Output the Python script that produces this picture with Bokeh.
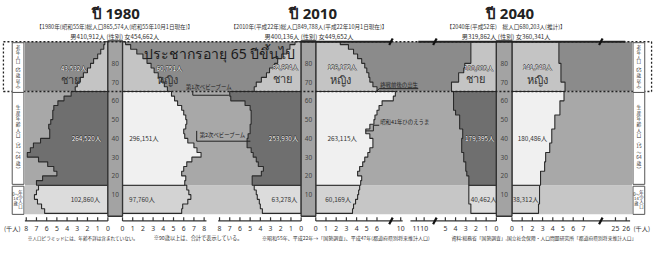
from bokeh.plotting import figure
from bokeh.models import Range1d
from bokeh.core.properties import value
from bokeh.embed import file_html
from bokeh.resources import INLINE

# ---------------- data ----------------
AGE_STARTS = [0, 2.5, 5, 7.5, 10, 12.5, 15, 17.5, 20, 22.5, 25, 27.5, 30, 32.5, 35,
              37.5, 40, 42.5, 45, 47.5, 50, 52.5, 55, 57.5, 60, 62.5, 65, 67.5, 70,
              72.5, 75, 77.5, 80, 82.5, 85, 87.5, 90]
AGE_TOP = 91.5
AGE_TICKS = [10, 20, 30, 40, 50, 60, 70, 80]

YEARS = ["1980", "2010", "2040"]
TITLES = ["ปี 1980", "ปี 2010", "ปี 2040"]
HEAD1 = ["【1980年(昭和55年)総人口865,574人(昭和55年10月1日現在)】",
         "【2010年(平成22年)総人口849,788人(平成22年10月1日現在)】",
         "【2040年(平成52年)　総人口680,203人(推計)】"]
MALE_TOTAL = ["410,912", "400,136", "319,862"]
FEMALE_TOTAL = ["454,662", "449,652", "360,341"]

# thousand persons per year of age (read per 2.5-year band of the picture)
MALE_1980 = [6.2, 6.5, 6.9, 7.2, 7.0, 6.8,
             7.0, 6.4, 5.0, 5.3, 5.9, 6.8, 7.9, 7.6, 7.3, 6.6, 5.7, 5.7, 5.8, 5.6, 5.4, 5.4, 5.3, 4.9, 4.3, 3.6,
             3.2, 3.0, 2.7, 2.4, 2.0, 1.7, 1.4, 1.0, 0.7, 0.4, 0.3]
FEMALE_1980 = [5.8, 5.9, 6.4, 6.7, 6.5, 6.3,
               6.1, 6.2, 5.8, 6.0, 6.3, 6.8, 7.7, 7.3, 7.0, 6.4, 6.1, 6.0, 6.2, 6.3, 6.2, 6.0, 5.8, 5.4, 5.1, 4.8,
               4.4, 4.1, 3.8, 3.5, 3.1, 2.8, 2.4, 2.0, 1.4, 0.8, 0.3]
MALE_2010 = [3.8, 4.0, 4.1, 4.3, 4.4, 4.6,
             4.8, 4.8, 3.9, 3.7, 4.2, 4.4, 4.7, 4.9, 5.3, 5.3, 5.2, 5.0, 5.0, 4.9, 4.9, 4.9, 5.0, 5.5, 6.9, 7.0,
             4.6, 4.4, 3.9, 3.4, 3.1, 2.6, 2.3, 1.9, 1.4, 1.1, 0.6]
FEMALE_2010 = [3.6, 3.7, 3.9, 4.1, 4.2, 4.3,
               4.4, 4.5, 4.1, 4.3, 4.6, 4.8, 5.1, 5.3, 5.6, 5.6, 5.3, 4.9, 5.3, 5.7, 5.8, 6.0, 6.2, 6.5, 7.6, 7.8,
               6.0, 5.6, 5.3, 5.2, 5.0, 4.8, 4.5, 4.1, 3.7, 3.2, 2.4]
MALE_2040 = [2.5, 2.5, 2.7, 2.7, 2.7, 2.7,
             2.7, 2.7, 2.9, 3.0, 3.0, 3.2, 3.2, 3.4, 3.4, 3.4, 3.3, 3.3, 3.6, 3.6, 3.6, 4.0, 4.2, 4.2, 4.2, 4.2,
             4.4, 4.4, 3.7, 3.7, 3.2, 3.1, 2.5, 2.5, 2.5, 2.5, 2.5]
FEMALE_2040 = [2.6, 2.6, 2.7, 2.7, 2.7, 2.7,
               2.8, 2.8, 2.8, 3.2, 3.2, 3.3, 3.3, 3.7, 3.7, 3.9, 3.9, 3.9, 4.2, 4.2, 4.2, 4.7, 4.7, 4.7, 5.1, 5.1,
               5.2, 5.2, 4.8, 4.8, 4.8, 4.8, 4.6, 4.6, 4.6, 4.6, 4.6]
MALE = {"1980": MALE_1980, "2010": MALE_2010, "2040": MALE_2040}
FEMALE = {"1980": FEMALE_1980, "2010": FEMALE_2010, "2040": FEMALE_2040}

# group totals [0-14, 15-64, 65+]
MALE_GROUPS = {"1980": ["102,860人", "264,520人", "43,532人"],
               "2010": ["63,278人", "253,930人", "82,924人"],
               "2040": ["40,462人", "179,395人", "100,005人"]}
FEMALE_GROUPS = {"1980": ["97,760人", "296,151人", "60,751人"],
                 "2010": ["60,169人", "263,115人", "126,172人"],
                 "2040": ["38,312人", "180,486人", "141,543人"]}

AXIS_VALUES = {"1980": (list(range(8, -1, -1)), list(range(0, 9))),
               "2010": (list(range(8, -1, -1)), list(range(0, 7))),
               "2040": (list(range(5, -1, -1)), list(range(0, 8)))}
BREAK_LABELS = ["10", "11", "10", "25", "26"]

FOOTNOTES = ["※人口ピラミッドには、年齢不詳は含まれていない。",
             "※90歳以上は、合計で表示している。",
             "※昭和55年、平成22年→「国勢調査」、平成47年(都道府県別将来推計人口)",
             "資料:総務省「国勢調査」,国立社会保障・人口問題研究所「都道府県別将来推計人口」"]

# ---------------- layout ----------------
K = 10.45
ZERO = {"1980": (110, 125), "2010": (308, 323), "2040": (508, 524)}
TITLE_X = {"1980": 118, "2010": 320, "2040": 522}
HEAD_X = {"1980": 117, "2010": 316, "2040": 518}


def ay(py):
    return (227.0 - py) / 2.0


JP = value("Noto Sans CJK JP")
TH = value("Noto Sans")

p = figure(width=654, height=242, output_backend="svg", toolbar_location=None,
           x_range=Range1d(0, 670), y_range=Range1d(ay(258), ay(0)),
           min_border=0, border_fill_color="white", background_fill_color="white")
p.axis.visible = False
p.grid.visible = False
p.outline_line_color = None


def txt(x, py, s, size, color="#222", align="center", bold=False, font=JP, baseline="middle"):
    p.text(x=[x], y=[ay(py)], text=[s], text_font=font, text_font_size=size,
           text_color=color, text_align=align, text_baseline=baseline,
           text_font_style="bold" if bold else "normal")


# background bands
p.quad(left=[25, 25, 25], right=[647, 647, 647], bottom=[-0.5, 15, 65], top=[15, 65, AGE_TOP],
       fill_color=["#c6c6c6", "#a8a8a8", "#8b8b8b"], line_color=None)

# pyramids
M_COLS = ["#dcdcdc", "#6f6f6f", "#c4c4c4"]
F_COLS = ["#d3d3d3", "#f0f0f0", "#c4c4c4"]
GROUPS = [(0, 6), (6, 26), (26, 37)]
edges = AGE_STARTS + [AGE_TOP]
for yr in YEARS:
    zm, zf = ZERO[yr]
    for zero, d, vals, cols in [(zm, -1, MALE[yr], M_COLS), (zf, 1, FEMALE[yr], F_COLS)]:
        for gi, (i0, i1) in enumerate(GROUPS):
            xs = [zero]
            ys = [edges[i0]]
            for i in range(i0, i1):
                xv = zero + d * vals[i] * K
                xs += [xv, xv]
                ys += [edges[i], edges[i + 1]]
            xs.append(zero)
            ys.append(edges[i1])
            p.patch(xs, ys, fill_color=cols[gi], line_color="#2a2a2a", line_width=1.1)
    # age column
    p.quad(left=[zm], right=[zf], bottom=[-1.5], top=[AGE_TOP + 0.5], fill_color="#a3a3a3",
           line_color="#333333", line_width=1.3)
    p.text(x=[(zm + zf) / 2] * len(AGE_TICKS), y=AGE_TICKS, text=[str(a) for a in AGE_TICKS],
           text_font=value("Noto Sans"), text_font_size="6.5px", text_color="#444",
           text_align="center", text_baseline="middle")

# dashed 65+ frame
p.line([3, 667, 667, 3, 3], [ay(44), ay(44), ay(97), ay(97), ay(44)], line_color="#222",
       line_width=1.3, line_dash="2 2")
p.multi_line([[308, 400], [428, 640]], [[ay(44)] * 2] * 2, line_color="#222", line_width=2)

# side label boxes
for bx in (12, 648):
    p.quad(left=[bx] * 3, right=[bx + 12] * 3, bottom=[ay(228), ay(196), ay(98)],
           top=[ay(198), ay(98), ay(45)], fill_color="white", line_color="#555", line_width=1)
    cx = bx + 6
    top_t = ["老", "年", "人", "口", "︵", "65", "歳", "以", "上", "︶"]
    for i, t in enumerate(top_t):
        txt(cx, 50 + i * 4.9, t, "4.6px", color="#333")
    mid_t = ["生", "産", "年", "齢", "人", "口", "︵", "15", "〜", "64", "歳", "︶"]
    for i, t in enumerate(mid_t):
        txt(cx, 113 + i * 6, t, "4.8px", color="#333")
    for i, t in enumerate(["年", "少", "人", "口"]):
        txt(cx + 2.5, 204 + i * 5, t, "4.4px", color="#333")
    for i, t in enumerate(["0〜", "14", "歳"]):
        txt(cx - 2.5, 206 + i * 5, t, "4.2px", color="#333")

# titles and headers
for k, yr in enumerate(YEARS):
    txt(TITLE_X[yr], 13, TITLES[k], "15px", color="#222", bold=True, font=TH)
    txt(HEAD_X[yr], 28, HEAD1[k], "5.6px", color="#333")
    txt(HEAD_X[yr], 38, "男" + MALE_TOTAL[k] + "人 (性別) 女" + FEMALE_TOTAL[k] + "人", "6.2px", color="#333")

txt(147, 57, "ประชากรอายุ 65 ปีขึ้นไป", "14px", color="#1a1a1a", align="left", font=TH)

# group labels
LAB_POS = {"1980": [(87, 212), (88, 147), (75, 72), (145, 212), (147, 147), (173, 72)],
           "2010": [(291, 212), (290, 147), (292, 71), (346, 212), (350, 147), (350, 71)],
           "2040": [(495, 212), (491, 147), (490, 72), (538, 212), (545, 147), (550, 71)]}
SEX_POS = {"1980": [(72, 84), (171, 84)], "2010": [(289, 83), (348, 84)], "2040": [(487, 83), (550, 84)]}
for yr in YEARS:
    labs = MALE_GROUPS[yr] + FEMALE_GROUPS[yr]
    whites = [False, True, True, False, False, True]
    for (x, py), s, w in zip(LAB_POS[yr], labs, whites):
        if w:
            for dx, dy in [(-0.5, 0), (0.5, 0), (0, -0.5), (0, 0.5)]:
                txt(x + dx, py + dy, s, "6.4px", color="#333")
            txt(x, py, s, "6.4px", color="white")
        else:
            txt(x, py, s, "6.4px", color="#333")
    (mx, mpy), (fx, fpy) = SEX_POS[yr]
    txt(mx, mpy, "ชาย", "11px", color="#333", font=TH)
    txt(fx, fpy, "หญิง", "11px", color="#333", font=TH)

# annotations
txt(190, 92, "第1次ベビーブーム", "5.4px", color="#222", align="left")
p.line([197, 197, 234], [ay(97), ay(101), ay(101)], line_color="#222", line_width=1)
txt(204, 143, "第2次ベビーブーム", "5.4px", color="#222", align="left")
p.line([201, 201, 256], [ay(139), ay(150), ay(150)], line_color="#222", line_width=1)
txt(389, 90, "終戦前後の出生", "5.4px", color="#222", align="left")
p.line([428, 388, 384], [ay(94), ay(94), ay(98)], line_color="#222", line_width=1)
txt(389, 129, "昭和41年ひのえうま", "5.4px", color="#222", align="left")
p.line([388, 382, 382, 374], [ay(133), ay(133), ay(139), ay(139)], line_color="#222", line_width=1)

# axes
AY = ay(235)
p.multi_line([[25, 110], [125, 211], [223, 308], [323, 412], [420, 508], [524, 645]],
             [[AY, AY]] * 6, line_color="#333", line_width=1.3)
tick_x = []
tick_lab = []
for yr in YEARS:
    zm, zf = ZERO[yr]
    mv, fv = AXIS_VALUES[yr]
    for v in mv:
        tick_x.append(zm - v * K)
        tick_lab.append(str(v))
    for v in fv:
        tick_x.append(zf + v * K)
        tick_lab.append(str(v))
BREAK_X = [410, 426, 434, 630, 641]
tick_x += BREAK_X
tick_lab += BREAK_LABELS
p.segment(x0=tick_x, y0=[AY] * len(tick_x), x1=tick_x, y1=[ay(231)] * len(tick_x),
          line_color="#333", line_width=1.2)
p.text(x=tick_x, y=[ay(243)] * len(tick_x), text=tick_lab, text_font=value("Noto Sans"),
       text_font_size="6.8px", text_color="#333", text_align="center", text_baseline="middle")
txt(12, 243, "(千人)", "6.2px", color="#333")
txt(657, 243, "(千人)", "6.2px", color="#333")

# break marks
for bx in (400, 445, 615):
    for by in (44, 235):
        p.segment(x0=[bx - 1.8], y0=[ay(by + 3.5)], x1=[bx + 1.8], y1=[ay(by - 3.5)],
                  line_color="#111", line_width=2.2)

# footnotes
FOOT_X = [28, 157, 268, 462]
FOOT_SIZE = ["4.6px", "5.2px", "5.0px", "4.8px"]
for fx, fs, ft in zip(FOOT_X, FOOT_SIZE, FOOTNOTES):
    txt(fx, 253, ft, fs, color="#333", align="left")

open("out.html", "w").write(file_html(p, INLINE))
